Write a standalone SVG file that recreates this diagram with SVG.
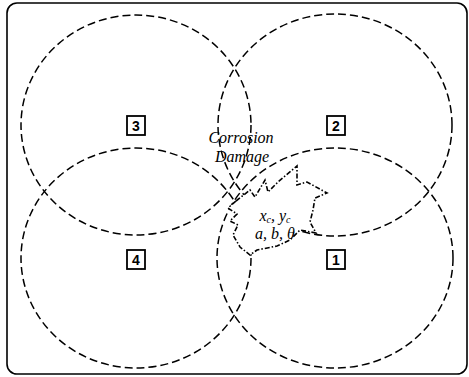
<svg xmlns="http://www.w3.org/2000/svg" width="469" height="377" viewBox="0 0 469 377">
<style>
.zone{fill:none;stroke:#000;stroke-width:1.5;stroke-dasharray:8 4}
.box{fill:#fff;stroke:#000;stroke-width:1.8}
.num{font-family:"Liberation Sans",Arial,sans-serif;font-weight:bold;font-size:14px;text-anchor:middle}
.lbl{font-family:"Liberation Serif","Times New Roman",serif;font-style:italic;font-size:16px;text-anchor:middle}
.blob{fill:#fff;stroke:#000;stroke-width:1.6;stroke-dasharray:5 2 1.5 2}
</style>
<rect x="7" y="3" width="460" height="371" rx="10" fill="#fff" stroke="#000" stroke-width="1.6"/>
<g id="zones">
<ellipse id="zone3" class="zone" cx="136" cy="125" rx="115" ry="110"/>
<ellipse id="zone2" class="zone" cx="335" cy="125" rx="117" ry="111"/>
<ellipse id="zone4" class="zone" cx="136" cy="258" rx="115" ry="110"/>
<ellipse id="zone1" class="zone" cx="335" cy="258" rx="118" ry="110"/>
</g>
<g id="label3"><rect class="box" x="127" y="116" width="18" height="19"/><text class="num" x="136" y="131">3</text></g>
<g id="label2"><rect class="box" x="327" y="116" width="18" height="19"/><text class="num" x="336" y="131">2</text></g>
<g id="label4"><rect class="box" x="127" y="250" width="18" height="19"/><text class="num" x="136" y="265">4</text></g>
<g id="label1"><rect class="box" x="327" y="250" width="18" height="19"/><text class="num" x="336" y="265">1</text></g>
<g id="damage">
<polygon class="blob" points="236,201 250,190 255,197 265,180 268,192 278,182 297,166 297,185 307,182 327,193 315,198 313,210 310,222 316,233 300,230 290,240 277,246 257,250 250,255 240,247 233,235 238,225 230,221 237,214 228,208"/>
<text class="lbl" x="241" y="143">Corrosion</text>
<text class="lbl" x="242" y="162">Damage</text>
<text class="lbl" x="275" y="221" font-size="15">x<tspan font-size="10" dy="2">c</tspan><tspan dy="-2">, y</tspan><tspan font-size="10" dy="2">c</tspan></text>
<text class="lbl" x="275" y="239" font-size="15">a, b, θ</text>
</g>
</svg>
